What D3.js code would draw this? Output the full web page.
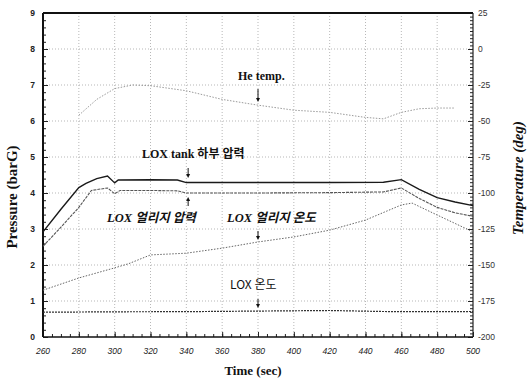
<!DOCTYPE html>
<html>
<head>
<meta charset="utf-8">
<script src="https://cdn.jsdelivr.net/npm/d3@7"></script>
<style>
  body { margin: 0; background: #fff; }
  svg { display: block; }
</style>
</head>
<body>
<svg id="chart" width="529" height="383"></svg>
<script>
// ---- data ----
var xTicks = [260, 280, 300, 320, 340, 360, 380, 400, 420, 440, 460, 480, 500];
var pTicks = [0, 1, 2, 3, 4, 5, 6, 7, 8, 9];
var tTicks = [25, 0, -25, -50, -75, -100, -125, -150, -175, -200];

// LOX tank 하부 압력 (barG)
var tankTime = [260, 270, 280, 284, 290, 296, 300, 302, 320, 335, 340, 380, 420, 450, 460, 470, 480, 490, 500];
var tankPress = [2.92, 3.55, 4.15, 4.27, 4.4, 4.47, 4.28, 4.36, 4.37, 4.36, 4.29, 4.29, 4.29, 4.3, 4.37, 4.1, 3.87, 3.75, 3.65];

// LOX 얼리지 압력 (barG)
var ullTime = [260, 270, 280, 287, 296, 300, 303, 320, 335, 340, 380, 420, 450, 460, 470, 480, 490, 500];
var ullPress = [2.52, 3.05, 3.6, 4.07, 4.14, 3.98, 4.07, 4.07, 4.06, 4.0, 4.0, 4.01, 4.03, 4.14, 3.85, 3.6, 3.45, 3.35];

// LOX 얼리지 온도 (deg)
var ullTempTime = [260, 280, 300, 308, 320, 340, 360, 380, 400, 420, 440, 460, 466, 480, 500];
var ullTemp = [-167.5, -159, -152, -149, -143, -141.8, -138.3, -134, -130.5, -125.8, -118.8, -108.3, -107, -115.3, -127];

// He temp. (deg)
var heTime = [280, 290, 300, 310, 320, 340, 360, 380, 400, 420, 440, 450, 460, 470, 480, 490];
var heTemp = [-46, -35, -27.5, -25, -25.5, -29, -35, -39, -42.5, -44, -47.5, -48.5, -44, -41.5, -41, -41];

// LOX 온도 (deg)
var loxTime = [260, 300, 340, 380, 420, 450, 470, 500];
var loxTemp = [-182.8, -182.5, -182.4, -182, -181.6, -182.3, -182.4, -182.3];

// ---- layout ----
var svg = d3.select("#chart");
var pLeft = 43, pRight = 473, pTop = 13, pBottom = 337;

var x = d3.scaleLinear().domain([260, 500]).range([pLeft, pRight]);
var yP = d3.scaleLinear().domain([0, 9]).range([pBottom, pTop]);
var yT = d3.scaleLinear().domain([-200, 25]).range([pBottom, pTop]);

var serif = "'Liberation Serif', 'Noto Sans CJK KR', serif";
var kor = "'Liberation Serif', 'Noto Sans CJK KR', sans-serif";

// grid
var grid = svg.append("g").attr("class", "grid");
grid.selectAll(".vgrid").data(xTicks.slice(1, -1))
  .enter().append("line")
  .attr("x1", function(d){ return x(d); })
  .attr("x2", function(d){ return x(d); })
  .attr("y1", pTop).attr("y2", pBottom)
  .style("stroke", "#999").style("stroke-width", 0.7)
  .style("stroke-dasharray", "1,2");
grid.selectAll(".hgrid").data(pTicks.slice(1, -1))
  .enter().append("line")
  .attr("x1", pLeft).attr("x2", pRight)
  .attr("y1", function(d){ return yP(d); })
  .attr("y2", function(d){ return yP(d); })
  .style("stroke", "#999").style("stroke-width", 0.7)
  .style("stroke-dasharray", "1,2");

// axes (ticks inward)
var axB = svg.append("g").attr("transform", "translate(0," + pBottom + ")")
  .call(d3.axisTop(x).tickValues(d3.range(260, 501, 5)).tickSize(3).tickFormat(""));
var axB2 = svg.append("g").attr("transform", "translate(0," + pBottom + ")")
  .call(d3.axisTop(x).tickValues(xTicks).tickSize(5).tickFormat(""));
var axL = svg.append("g").attr("transform", "translate(" + pLeft + ",0)")
  .call(d3.axisRight(yP).tickValues(d3.range(0, 9.01, 0.2)).tickSize(3).tickFormat(""));
var axL2 = svg.append("g").attr("transform", "translate(" + pLeft + ",0)")
  .call(d3.axisRight(yP).tickValues(pTicks).tickSize(5).tickFormat(""));
var axR = svg.append("g").attr("transform", "translate(" + pRight + ",0)")
  .call(d3.axisLeft(yT).tickValues(d3.range(-200, 25.1, 2.5)).tickSize(3).tickFormat(""));
var axR2 = svg.append("g").attr("transform", "translate(" + pRight + ",0)")
  .call(d3.axisLeft(yT).tickValues(tTicks).tickSize(5).tickFormat(""));
[axB, axB2, axL, axL2, axR, axR2].forEach(function(a){
  a.select(".domain").remove();
  a.selectAll("line").style("stroke", "#222").style("stroke-width", 1);
});

// tick labels
svg.selectAll(".xlab").data(xTicks).enter().append("text")
  .attr("class", "xlab")
  .attr("x", function(d){ return x(d); })
  .attr("y", 354)
  .attr("text-anchor", "middle")
  .style("font-family", "'Liberation Sans', sans-serif")
  .style("font-style", "italic")
  .style("font-size", "8.5px")
  .style("fill", "#222")
  .text(function(d){ return d; });
svg.selectAll(".plab").data(pTicks).enter().append("text")
  .attr("class", "plab")
  .attr("x", 35)
  .attr("y", function(d){ return yP(d) + 3; })
  .attr("text-anchor", "end")
  .style("font-family", "'Liberation Sans', sans-serif")
  .style("font-weight", "bold")
  .style("font-size", "8.5px")
  .style("fill", "#222")
  .text(function(d){ return d; });
svg.selectAll(".tlab").data(tTicks).enter().append("text")
  .attr("class", "tlab")
  .attr("x", 478)
  .attr("y", function(d){ return yT(d) + 3; })
  .attr("text-anchor", "start")
  .style("font-family", "'Liberation Sans', sans-serif")
  .style("font-size", "8.5px")
  .style("fill", "#333")
  .text(function(d){ return d; });

// frame
svg.append("line").attr("x1", pLeft).attr("x2", pRight).attr("y1", pTop).attr("y2", pTop)
  .style("stroke", "#111").style("stroke-width", 2);
svg.append("line").attr("x1", pLeft).attr("x2", pRight).attr("y1", pBottom).attr("y2", pBottom)
  .style("stroke", "#111").style("stroke-width", 1.6);
svg.append("line").attr("x1", pLeft).attr("x2", pLeft).attr("y1", pTop).attr("y2", pBottom)
  .style("stroke", "#111").style("stroke-width", 2);
svg.append("line").attr("x1", pRight).attr("x2", pRight).attr("y1", pTop).attr("y2", pBottom)
  .style("stroke", "#222").style("stroke-width", 1.2);

// series
function drawSeries(times, vals, yScale, color, width, dash) {
  var pts = times.map(function(t, i){ return [t, vals[i]]; });
  var line = d3.line()
    .x(function(d){ return x(d[0]); })
    .y(function(d){ return yScale(d[1]); });
  svg.append("path").datum(pts)
    .attr("d", line)
    .style("fill", "none")
    .style("stroke", color)
    .style("stroke-width", width)
    .style("stroke-dasharray", dash);
}
drawSeries(heTime, heTemp, yT, "#9a9a9a", 1, "1.5,1.5");
drawSeries(ullTempTime, ullTemp, yT, "#666", 1, "1.5,1.5");
drawSeries(loxTime, loxTemp, yT, "#333", 1.2, "2,1");
drawSeries(ullTime, ullPress, yP, "#555", 1.1, "3,1");
drawSeries(tankTime, tankPress, yP, "#1a1a1a", 1.4, null);

// annotations
function label(txt, xx, yy, italic, size) {
  svg.append("text")
    .attr("x", xx).attr("y", yy)
    .style("font-family", kor)
    .style("font-weight", "bold")
    .style("font-style", italic ? "italic" : "normal")
    .style("font-size", size + "px")
    .style("fill", "#111")
    .text(txt);
}
function arrow(xx, y1, y2) {
  // arrow head at y2
  var dir = y2 > y1 ? 1 : -1;
  svg.append("line").attr("x1", xx).attr("x2", xx).attr("y1", y1).attr("y2", y2 - dir * 3)
    .style("stroke", "#111").style("stroke-width", 1);
  svg.append("path")
    .attr("d", "M" + (xx - 2) + "," + (y2 - dir * 4) + "L" + (xx + 2) + "," + (y2 - dir * 4) + "L" + xx + "," + y2 + "Z")
    .style("fill", "#111");
}
label("He temp.", 238, 80, false, 12);
arrow(x(380), 89, 102);
label("LOX tank 하부 압력", 142, 158, false, 12);
arrow(x(341), 168, 178);
label("LOX 얼리지 압력", 107, 222, true, 12.5);
arrow(x(341), 206, 197);
label("LOX 얼리지 온도", 227, 222, true, 12.5);
arrow(x(380), 231, 240);
svg.append("text").attr("x", 230).attr("y", 289)
  .style("font-family", "'Noto Sans CJK KR', 'Liberation Sans', sans-serif")
  .style("font-size", "12px").style("fill", "#111")
  .text("LOX 온도");
arrow(x(380), 299, 308);

// axis titles
svg.append("text")
  .attr("transform", "translate(17,197) rotate(-90)")
  .attr("text-anchor", "middle")
  .style("font-family", serif).style("font-weight", "bold")
  .style("font-size", "15px").style("fill", "#111")
  .text("Pressure (barG)");
svg.append("text")
  .attr("transform", "translate(523,178) rotate(-90)")
  .attr("text-anchor", "middle")
  .style("font-family", serif).style("font-weight", "bold").style("font-style", "italic")
  .style("font-size", "15px").style("fill", "#111")
  .text("Temperature (deg)");
svg.append("text")
  .attr("x", 253).attr("y", 375)
  .attr("text-anchor", "middle")
  .style("font-family", serif).style("font-weight", "bold")
  .style("font-size", "13px").style("fill", "#111")
  .text("Time (sec)");
</script>
</body>
</html>
